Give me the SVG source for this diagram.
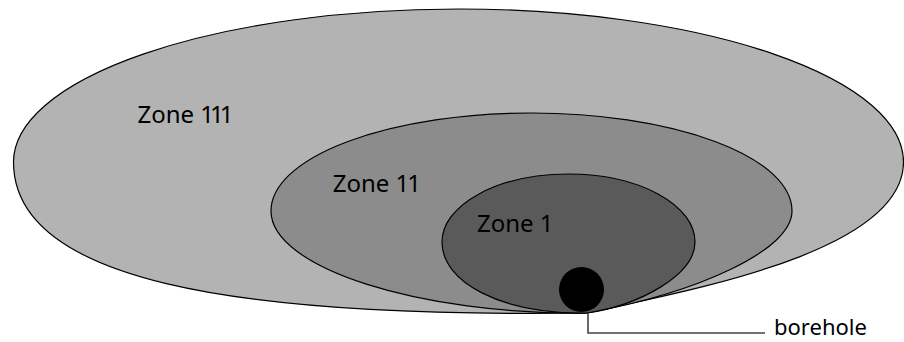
<svg xmlns="http://www.w3.org/2000/svg" width="904" height="342" viewBox="0 0 904 342">
  <style>
    .zone { stroke: #000; stroke-width: 1.2; }
    .z3 { fill: #b3b3b3; }
    .z2 { fill: #8c8c8c; }
    .z1 { fill: #5a5a5a; }
    .lbl { font-family: "Noto Sans", "DejaVu Sans", sans-serif; font-size: 24px; fill: #000; }
    .lead { fill: none; stroke: #444; stroke-width: 1.6; }
  </style>
  <rect width="904" height="342" fill="#fff"/>
  <g id="zone3">
    <path class="zone z3" d="M13.5,162 A445,153 0 0 1 903.5,162 C903.5,252 690,290 587,313 C230,318 13.5,280 13.5,162 Z"/>
    <text class="lbl" x="137.5" y="123.3">Zone <tspan letter-spacing="-4">111</tspan></text>
  </g>
  <g id="zone2">
    <path class="zone z2" d="M271,211 A260.5,98 0 0 1 792,211 C792,250 700,292 587,313 C420,315 271,268 271,211 Z"/>
    <text class="lbl" x="332.7" y="192.3">Zone <tspan letter-spacing="-2">11</tspan></text>
  </g>
  <g id="zone1">
    <path class="zone z1" d="M442,242 A126.5,68 0 0 1 695,242 C695,275 640,305 587,313 C500,314 442,282 442,242 Z"/>
    <text class="lbl" x="477" y="232.3">Zone 1</text>
  </g>
  <g id="borehole">
    <circle cx="581.5" cy="289.5" r="22.5" fill="#000"/>
    <text class="lbl" x="774" y="335" style="font-size:22px">borehole</text>
  </g>
  <g id="connectors">
    <path class="lead" d="M588,313 V333 H765"/>
  </g>
</svg>
